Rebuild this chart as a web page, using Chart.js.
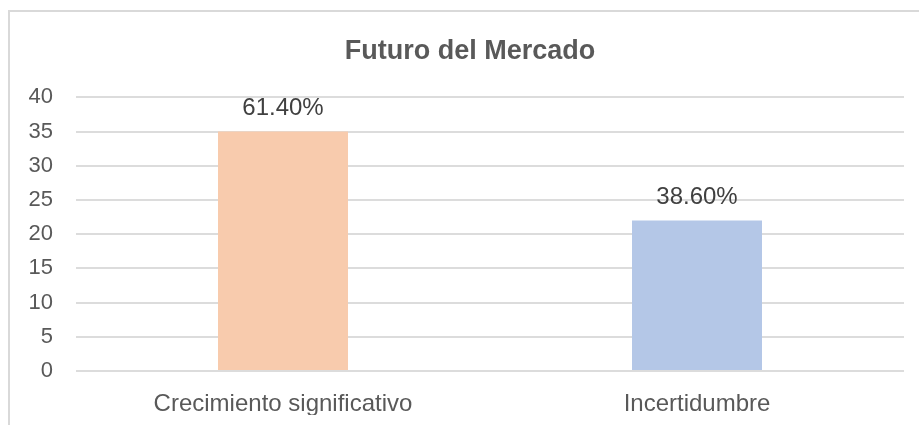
<!DOCTYPE html>
<html>
<head>
<meta charset="utf-8">
<script src="https://cdn.jsdelivr.net/npm/chart.js@4.4.1/dist/chart.umd.min.js"></script>
<style>
  html, body { margin: 0; padding: 0; background: #fff; overflow: hidden; }
  #frame {
    position: absolute; left: 8px; top: 10px; width: 1000px; height: 500px;
    border-left: 2px solid #d9d9d9; border-top: 2px solid #d9d9d9;
  }
  #wrap { position: absolute; left: 0; top: 0; width: 919px; height: 425px; overflow: hidden; }
</style>
</head>
<body>
<div id="frame"></div>
<div id="wrap"><canvas id="chart" width="940" height="425"></canvas></div>
<script>
// data
const categories = ["Crecimiento significativo", "Incertidumbre"];
const values = [35, 22];
const percentLabels = ["61.40%", "38.60%"];
const barColors = ["#F8CBAD", "#B4C7E7"];
const yTicks = { min: 0, max: 40, step: 5 };

const textColor = "#595959";
const fontFamily = "'Liberation Sans', Arial, sans-serif";

// draws the percentage text above each bar
const barLabels = {
  id: "barLabels",
  afterDatasetsDraw(chart) {
    const ctx = chart.ctx;
    const meta = chart.getDatasetMeta(0);
    ctx.save();
    ctx.font = "24px " + fontFamily;
    ctx.fillStyle = "#404040";
    ctx.textAlign = "center";
    ctx.textBaseline = "alphabetic";
    meta.data.forEach((bar, i) => {
      ctx.fillText(percentLabels[i], bar.x, bar.y - 17);
    });
    ctx.restore();
  },
};

const ctx = document.getElementById("chart").getContext("2d");
new Chart(ctx, {
  type: "bar",
  data: {
    labels: categories,
    datasets: [
      {
        data: values,
        backgroundColor: barColors,
        borderWidth: 0,
        categoryPercentage: 1,
        barPercentage: 0.314,
      },
    ],
  },
  options: {
    responsive: false,
    animation: false,
    layout: { padding: { left: 0, right: 0, top: 0, bottom: 10 } },
    plugins: {
      legend: { display: false },
      tooltip: { enabled: false },
      title: {
        display: true,
        text: "Futuro del Mercado",
        color: textColor,
        font: { family: fontFamily, size: 27, weight: "bold" },
        padding: { top: 35, bottom: 30 },
      },
    },
    scales: {
      x: {
        grid: { display: false, drawTicks: false },
        border: { display: false },
        ticks: {
          color: textColor,
          font: { family: fontFamily, size: 24 },
          padding: 19,
        },
        afterFit(scale) {
          scale.height = 44;
        },
      },
      y: {
        min: yTicks.min,
        max: yTicks.max,
        grid: { color: "#dcdcdc", lineWidth: 2, drawTicks: false },
        border: { display: false },
        ticks: {
          stepSize: yTicks.step,
          color: textColor,
          font: { family: fontFamily, size: 22 },
          padding: 23,
        },
        afterFit(scale) {
          scale.width = 76;
        },
      },
      // empty right-hand axis so the title centres over the whole frame
      yRight: {
        position: "right",
        grid: { display: false, drawTicks: false },
        border: { display: false },
        ticks: { display: false },
        afterFit(scale) {
          scale.width = 36;
        },
      },
    },
  },
  plugins: [barLabels],
});
</script>
</body>
</html>
